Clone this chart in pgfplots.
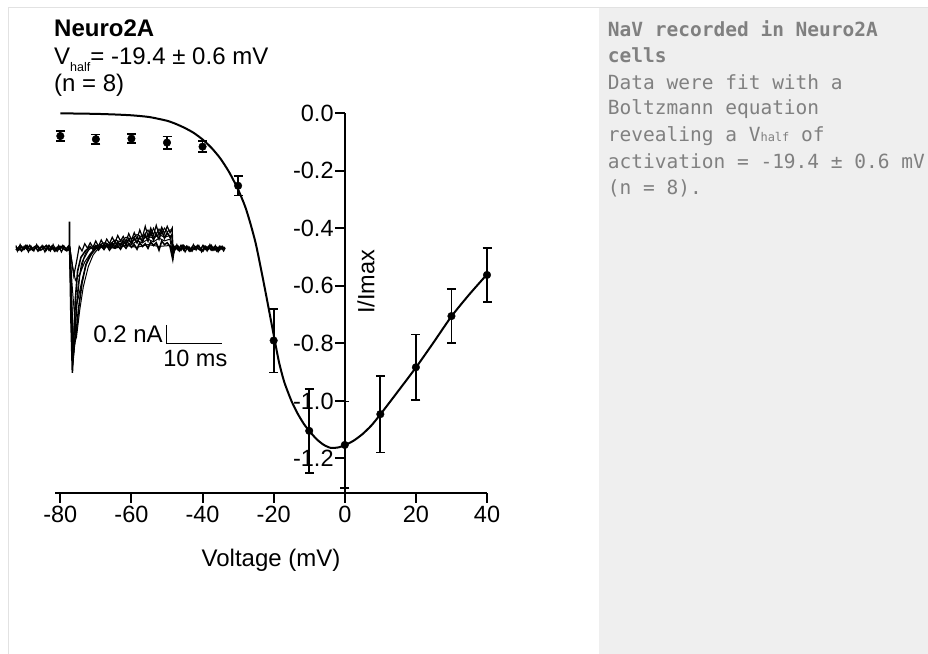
\documentclass[border=0pt]{standalone}
\usepackage{pgfplots}
\pgfplotsset{compat=1.18}
\usepackage{pgfplotstable}
\usepackage{fontspec}
\setmainfont{Liberation Sans}
\newfontfamily\monofont{DejaVu Sans Mono}
\definecolor{panelgray}{HTML}{EFEFEF}
\definecolor{bordergray}{HTML}{E2E2E2}
\definecolor{textgray}{HTML}{808080}

\pgfplotstableread{
x y e
-80 -0.079 0.017
-70 -0.090 0.016
-60 -0.088 0.016
-50 -0.102 0.021
-40 -0.116 0.019
-30 -0.252 0.034
-20 -0.790 0.111
-10 -1.104 0.146
0 -1.153 0.151
10 -1.046 0.133
20 -0.883 0.114
30 -0.705 0.093
40 -0.562 0.093
}\datapts

\pgfplotstableread{
x y
-80 0.000
-75 -0.001
-70 -0.002
-65 -0.004
-60 -0.007
-55 -0.013
-50 -0.026
-47.5 -0.037
-45 -0.051
-42.5 -0.068
-40 -0.091
-37.5 -0.120
-35 -0.157
-32.5 -0.205
-30 -0.265
-28 -0.325
-26.5 -0.385
-25 -0.455
-23.5 -0.545
-22 -0.640
-20 -0.770
-18.5 -0.865
-17 -0.935
-15 -1.000
-13.3 -1.043
-11.5 -1.080
-10 -1.104
-8 -1.132
-6 -1.152
-4 -1.163
-2 -1.162
0 -1.154
2.5 -1.138
5 -1.115
7.5 -1.085
10 -1.047
15 -0.966
20 -0.884
25 -0.796
30 -0.706
35 -0.630
40 -0.560
}\fitcurve

\begin{document}
\begin{tikzpicture}[x=1bp,y=1bp]
\useasboundingbox (0,0) rectangle (928,654);
\fill[white] (0,0) rectangle (928,654);
\fill[panelgray] (599,0) rectangle (928,646.5);
\draw[bordergray, line width=1bp] (8,0) -- (8,646.5) -- (928,646.5);

% main I-V axis
\begin{axis}[
  at={(55bp,161bp)}, anchor=south west,
  scale only axis, width=432bp, height=379.7bp,
  xmin=-81.5, xmax=40, ymin=-1.32, ymax=0,
  axis x line*=bottom, axis y line*=middle,
  axis line style={line width=2.4bp, black},
  tick align=outside,
  major tick length=10bp,
  tick style={line width=2bp, black},
  xtick={-80,-60,-40,-20,0,20,40},
  xticklabels={-80,-60,-40,-20,0,20,40},
  ytick={-1.2,-1.0,-0.8,-0.6,-0.4,-0.2,0},
  yticklabels={-1.2,-1.0,-0.8,-0.6,-0.4,-0.2,0.0},
  ticklabel style={font=\fontsize{23.5bp}{27bp}\selectfont},
  yticklabel style={inner xsep=1bp},
  xticklabel style={inner ysep=3bp},
  xlabel={Voltage (mV)},
  xlabel style={font=\fontsize{24bp}{28bp}\selectfont, at={(axis description cs:0.5,0)}, anchor=base, yshift=-73.7bp},
  ylabel={I/Imax},
  ylabel style={font=\fontsize{23.5bp}{27bp}\selectfont, at={(axis description cs:0.72,0.5565)}, anchor=center},
  clip=false,
]
\addplot[black, line width=2bp, smooth, tension=0.4] table[x=x,y=y] {\fitcurve};
\addplot[black, only marks, mark=*, mark size=3.8bp,
  error bars/.cd, y dir=both, y explicit,
  error bar style={line width=1.8bp, black},
  error mark options={rotate=90, line width=1.8bp, mark size=4.5bp, black}]
  table[x=x, y=y, y error=e] {\datapts};
\end{axis}

% inset current traces
\begin{axis}[
  at={(16bp,277.6bp)}, anchor=south west,
  scale only axis, width=209bp, height=155.6bp,
  xmin=0, xmax=38, ymin=-1.4, ymax=0.3,
  hide axis, clip=false,
]
\addplot[black, line width=1.6bp] coordinates {
(0,0.01)(0.5,-0.02)(1,0.02)(1.5,-0.01)(2,0.03)(2.5,-0.02)(3,0.0)(3.5,0.02)(4,-0.03)(4.5,0.01)(5,0.02)(5.5,-0.02)(6,0.03)(6.5,-0.01)(7,0.01)(7.5,-0.03)(8,0.02)(8.5,0.0)(9,-0.02)(9.5,0.02)(9.7,0.0)(9.72,0.29)(9.76,0.0)(10.0,-0.8)(10.25,-1.36)(10.5,-1.0)(10.8,-0.55)(11.2,-0.25)(11.8,-0.1)(12.6,-0.03)(13.5,0.02)(14,-0.01)(14.5,0.03)(15,0.0)(15.5,0.04)(16,-0.01)(16.5,0.05)(17,0.02)(17.5,0.06)(18,0.01)(18.5,0.07)(19,0.03)(19.5,0.08)(20,0.04)(20.5,0.1)(21,0.05)(21.5,0.11)(22,0.06)(22.5,0.12)(23,0.07)(23.5,0.15)(24,0.08)(24.5,0.18)(25,0.09)(25.5,0.16)(26,0.1)(26.5,0.19)(27,0.11)(27.5,0.17)(28,0.12)(28.4,0.15)(28.5,-0.1)(28.7,0.02)(29,-0.01)(29.5,0.02)(30,-0.02)(30.5,0.03)(31,-0.01)(31.5,0.01)(32,-0.03)(32.5,0.02)(33,0.0)(33.5,-0.02)(34,0.03)(34.5,-0.01)(35,0.02)(35.5,-0.02)(36,0.01)(36.5,-0.03)(37,0.02)(37.5,-0.01)(38,0.01)
};
\addplot[black, line width=1.6bp] coordinates {
(0,-0.02)(0.5,0.01)(1,-0.03)(1.5,0.02)(2,-0.01)(2.5,0.03)(3,-0.02)(3.5,0.0)(4,0.02)(4.5,-0.02)(5,0.0)(5.5,0.03)(6,-0.02)(6.5,0.02)(7,-0.03)(7.5,0.01)(8,-0.01)(8.5,0.03)(9,0.0)(9.5,-0.02)(9.8,0.0)(10.1,-0.6)(10.4,-1.15)(10.9,-0.95)(11.4,-0.65)(12.0,-0.38)(12.7,-0.18)(13.6,-0.06)(14.5,0.01)(15,-0.02)(15.5,0.02)(16,-0.01)(16.5,0.03)(17,-0.02)(17.5,0.02)(18,0.0)(18.5,0.03)(19,-0.01)(19.5,0.04)(20,0.0)(20.5,0.05)(21,0.01)(21.5,0.04)(22,-0.01)(22.5,0.06)(23,0.02)(23.5,0.05)(24,0.0)(24.5,0.07)(25,0.03)(25.5,0.06)(26,-0.02)(26.5,0.08)(27,0.04)(27.5,0.06)(28,0.02)(28.5,-0.12)(28.8,0.01)(29,0.02)(29.5,-0.02)(30,0.03)(30.5,-0.02)(31,0.02)(31.5,-0.03)(32,0.01)(32.5,-0.01)(33,0.03)(33.5,0.0)(34,-0.03)(34.5,0.02)(35,-0.01)(35.5,0.03)(36,-0.02)(36.5,0.01)(37,-0.02)(37.5,0.02)(38,-0.01)
};
\addplot[black, line width=1.2bp] coordinates {
(0,0.03)(0.25,-0.03)(0.75,0.04)(1.25,-0.02)(1.75,0.03)(2.25,-0.04)(2.75,0.02)(3.25,-0.03)(3.75,0.04)(4.25,-0.02)(4.75,0.03)(5.25,-0.04)(5.75,0.02)(6.25,-0.03)(6.75,0.04)(7.25,-0.03)(7.75,0.03)(8.25,-0.04)(8.75,0.02)(9.25,-0.03)(9.7,0.02)(9.8,0)(10.5,-0.3)(11,-0.15)(11.5,0.02)(12,-0.03)(12.5,0.05)(13,0.0)(13.5,0.06)(14,0.01)(14.5,0.08)(15,0.02)(15.5,0.09)(16,0.03)(16.5,0.1)(17,0.05)(17.5,0.12)(18,0.06)(18.5,0.14)(19,0.08)(19.5,0.13)(20,0.07)(20.5,0.16)(21,0.09)(21.5,0.17)(22,0.1)(22.5,0.2)(23,0.12)(23.5,0.24)(24,0.13)(24.5,0.22)(25,0.14)(25.5,0.25)(26,0.15)(26.5,0.23)(27,0.16)(27.5,0.24)(28,0.17)(28.4,0.22)(28.5,-0.13)(28.6,0.03)(28.75,-0.03)(29.25,0.04)(29.75,-0.03)(30.25,0.03)(30.75,-0.04)(31.25,0.02)(31.75,-0.03)(32.25,0.04)(32.75,-0.02)(33.25,0.03)(33.75,-0.04)(34.25,0.02)(34.75,-0.03)(35.25,0.04)(35.75,-0.02)(36.25,0.03)(36.75,-0.04)(37.25,0.02)(37.75,-0.03)(38,0.0)
};
\addplot[black, line width=1bp] coordinates {
(9.8,0)(10.05,-0.7)(10.35,-1.25)(10.7,-1.0)(11.1,-0.6)(11.6,-0.3)(12.3,-0.12)(13.2,-0.02)(14,0.02)(15,0.03)(16,0.06)(17,0.04)(18,0.09)(19,0.07)(20,0.12)(21,0.1)(22,0.15)(23,0.12)(24,0.2)(24.5,0.14)(25,0.22)(25.5,0.15)(26,0.21)(26.5,0.16)(27,0.22)(27.5,0.18)(28,0.2)(28.4,0.2)(28.5,0.0)(29,0.01)
};
\addplot[black, line width=1bp] coordinates {
(9.8,0)(10.15,-0.6)(10.5,-1.05)(11.0,-0.97)(11.6,-0.67)(12.24,-0.42)(13.15,-0.2)(14.05,-0.07)(15,0.0)(16,0.04)(17,0.02)(18,0.06)(19,0.05)(20,0.09)(21,0.07)(22,0.11)(23,0.1)(24,0.13)(25,0.11)(26,0.15)(27,0.12)(28,0.14)(28.5,0.0)(29,0.0)
};
\addplot[black, line width=1bp] coordinates {
(9.8,0)(10.2,-0.4)(10.6,-0.7)(11.3,-0.55)(12,-0.35)(12.8,-0.17)(13.8,-0.06)(14.8,0.01)(16,0.03)(17,0.01)(18,0.05)(19,0.03)(20,0.07)(21,0.04)(22,0.08)(23,0.06)(24,0.1)(25,0.07)(26,0.11)(27,0.08)(28,0.1)(28.5,-0.09)(29,0.0)
};
\addplot[black, line width=1bp] coordinates {
(9.8,0)(10.3,-0.2)(10.8,-0.35)(11.6,-0.28)(12.5,-0.15)(13.5,-0.06)(14.5,0.0)(16,0.02)(18,0.0)(20,0.03)(22,0.01)(24,0.04)(26,0.02)(28,0.03)(28.5,0.0)
};
\addplot[black, line width=1bp] coordinates {
(9.8,0)(10.1,-0.9)(10.3,-1.3)(10.6,-1.1)(10.9,-0.7)(11.3,-0.4)(11.9,-0.17)(12.7,-0.05)(13.5,0.0)
};
% scale bar
\addplot[black, line width=1.3bp] coordinates {(27.4,-0.838) (27.4,-1.038) (37.4,-1.038)};
\node[anchor=base east, inner sep=0pt, font=\fontsize{24bp}{28bp}\selectfont] at (axis cs:26.7,-1.027) {0.2 nA};
\node[anchor=base, inner sep=0pt, font=\fontsize{23.5bp}{27bp}\selectfont] at (axis cs:32.6,-1.294) {10 ms};
\end{axis}

% titles
\node[anchor=base west, inner sep=0pt, font=\fontsize{24bp}{28bp}\selectfont\bfseries] at (54,617.3) {Neuro2A};
\node[anchor=base west, inner sep=0pt, font=\fontsize{24bp}{28bp}\selectfont] at (54,589.7) {V\raisebox{-7.5bp}{\fontsize{12.5bp}{12.5bp}\selectfont half}= -19.4 ± 0.6 mV};
\node[anchor=base west, inner sep=0pt, font=\fontsize{24bp}{28bp}\selectfont] at (54,562.3) {(n = 8)};

% caption panel
\begin{scope}[every node/.style={anchor=base west, inner sep=0pt, text=textgray}]
\node[font=\monofont\fontsize{19.5bp}{26bp}\selectfont\bfseries] at (607.7,617.3) {NaV recorded in Neuro2A};
\node[font=\monofont\fontsize{19.5bp}{26bp}\selectfont\bfseries] at (607.7,591.3) {cells};
\node[font=\monofont\fontsize{19.5bp}{26bp}\selectfont] at (607.7,564.7) {Data were fit with a};
\node[font=\monofont\fontsize{19.5bp}{26bp}\selectfont] at (607.7,539.0) {Boltzmann equation};
\node[font=\monofont\fontsize{19.5bp}{26bp}\selectfont] at (607.7,512.3) {revealing a V{\fontsize{12bp}{12bp}\selectfont half} of};
\node[font=\monofont\fontsize{19.5bp}{26bp}\selectfont] at (607.7,485.7) {activation = -19.4 ± 0.6 mV};
\node[font=\monofont\fontsize{19.5bp}{26bp}\selectfont] at (607.7,459.0) {(n = 8).};
\end{scope}
\end{tikzpicture}
\end{document}
